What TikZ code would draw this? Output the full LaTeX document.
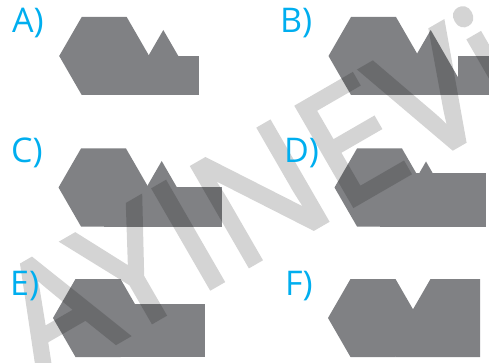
\documentclass[tikz,border=0pt]{standalone}
\usepackage{fontspec}
\setmainfont{Open Sans}
\newfontfamily\markfont{Open Sans}[FakeBold=2.5]
\definecolor{shapegray}{HTML}{808184}
\definecolor{labelcyan}{HTML}{00AEEF}
\newcommand{\hexat}[2]{\fill[piece] (#1,#2) ++(-45,0) -- ++(22.5,-39) -- ++(45,0) -- ++(22.5,39) -- ++(-22.5,39) -- ++(-45,0) -- cycle;}
\begin{document}
\begin{tikzpicture}[x=1pt,y=-1pt,
    piece/.style={fill=shapegray},
    optlabel/.style={text=labelcyan,font=\fontsize{34}{34}\selectfont,anchor=base west,inner sep=0pt},
    watermark/.style={text=black,font=\markfont\fontsize{160}{160}\selectfont,rotate=30,anchor=base,inner sep=0pt}]
  \useasboundingbox (0,0) rectangle (489,363);
  \clip (0,0) rectangle (489,363);

  \hexat{104.2}{56}
  \fill[piece] (148.3,56) -- (163.3,30) -- (178.3,56) -- cycle;
  \fill[piece] (104,56) rectangle (199,95);

  \hexat{373.5}{56}
  \fill[piece] (393.2,95) -- (430.7,30) -- (468.2,95) -- cycle;
  \fill[piece] (457.5,56) rectangle (495,95);

  \hexat{103.5}{187.5}
  \fill[piece] (146.7,187) -- (161.7,161) -- (176.7,187) -- cycle;
  \fill[piece] (103.5,187) rectangle (221.7,226.5);

  \hexat{379.5}{187.5}
  \fill[piece] (411,187.5) -- (426,161.5) -- (441,187.5) -- cycle;
  \fill[piece] (379.5,173.3) rectangle (485.7,226.5);

  \hexat{98}{318}
  \fill[piece] (98,304.3) rectangle (205,357);

  \hexat{373}{318}
  \fill[piece] (413,309.3) -- (430.5,279) -- (480,279) -- (480,357) -- (395.5,357) -- cycle;

  \begin{scope}[transparency group,opacity=0.17]
    \node[watermark] (mark) at (287.7,243.7) {AYINEVi};
  \end{scope}

  \node[optlabel] (labA) at (12,33) {A)};
  \node[optlabel] (labB) at (280,33) {B)};
  \node[optlabel] (labC) at (11,163) {C)};
  \node[optlabel] (labD) at (284,163) {D)};
  \node[optlabel] (labE) at (10,295) {E)};
  \node[optlabel] (labF) at (285,295) {F)};
\end{tikzpicture}
\end{document}
